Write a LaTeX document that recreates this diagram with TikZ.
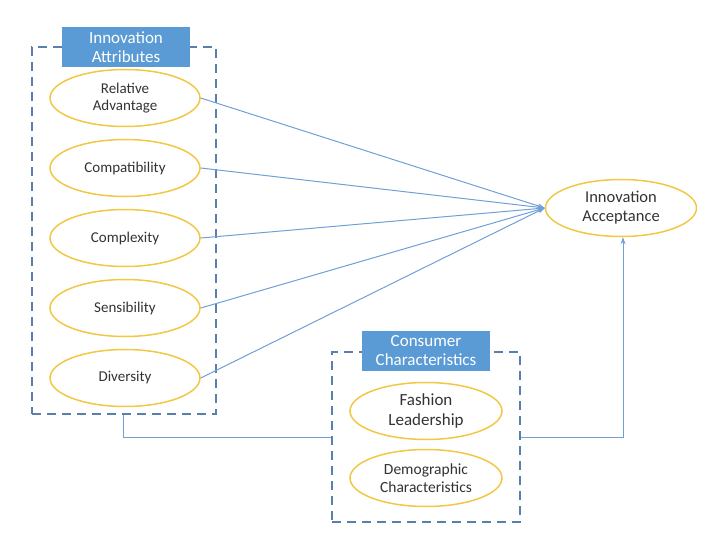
\documentclass[tikz,border=0pt]{standalone}
\usepackage{fontspec}
\setmainfont{Carlito}
\usetikzlibrary{arrows.meta,shapes.geometric}
\definecolor{dashblue}{HTML}{5A7EAE}
\definecolor{labelblue}{HTML}{5B9BD5}
\definecolor{gold}{HTML}{F2C744}
\definecolor{linkblue}{HTML}{6FA0D6}
\definecolor{txt}{HTML}{333333}
\tikzset{
  attr/.style={ellipse,draw=gold,line width=1.5pt,minimum width=150pt,minimum height=57pt,inner sep=0pt,align=center,font=\fontsize{15}{17}\selectfont,text=txt},
  grp/.style={draw=dashblue,line width=1.4pt,dash pattern=on 9pt off 6pt},
  lbl/.style={fill=labelblue,text=white,align=center,minimum width=128pt,minimum height=40pt,inner sep=0pt,font=\fontsize{17}{19}\selectfont},
  link/.style={draw=linkblue,line width=1pt},
  tip/.style={-{Stealth[length=7pt,width=5pt]}}
}
\begin{document}
\begin{tikzpicture}[x=1pt,y=-1pt]
\useasboundingbox (0,0) rectangle (716,541);
% groups
\node[grp,minimum width=184pt,minimum height=367pt,inner sep=0pt] (ga) at (124,230.5) {};
\node[grp,minimum width=188pt,minimum height=170pt,inner sep=0pt] (gc) at (426,437) {};
\node[lbl] (la) at (126,47) {Innovation\\Attributes};
\node[lbl] (lc) at (426,351) {Consumer\\Characteristics};
% ellipses
\node[attr] (ra) at (125,98) {Relative\\Advantage};
\node[attr] (co) at (125,168) {Compatibility};
\node[attr] (cx) at (125,238) {Complexity};
\node[attr] (se) at (125,308) {Sensibility};
\node[attr] (di) at (125,378) {Diversity};
\node[attr,minimum width=151pt,font=\fontsize{16.5}{19}\selectfont] (ia) at (621,208) {Innovation\\Acceptance};
\node[attr,minimum width=152pt,font=\fontsize{17}{20}\selectfont] (fl) at (426,411) {Fashion\\Leadership};
\node[attr,minimum width=152pt,font=\fontsize{15.5}{18}\selectfont] (dc) at (426,478) {Demographic\\Characteristics};
% links
\foreach \n in {ra,co,cx,se,di}{
  \draw[link,tip] (\n.east) -- (ia.west);
}
\coordinate (b1) at (123,437);
\coordinate (b2) at (623,437);
\draw[link] (ga.south -| b1) -- (b1) -- (gc.west |- b1);
\draw[link,tip] (gc.east |- b2) -- (b2) -- (ia.south -| b2);
\end{tikzpicture}
\end{document}
